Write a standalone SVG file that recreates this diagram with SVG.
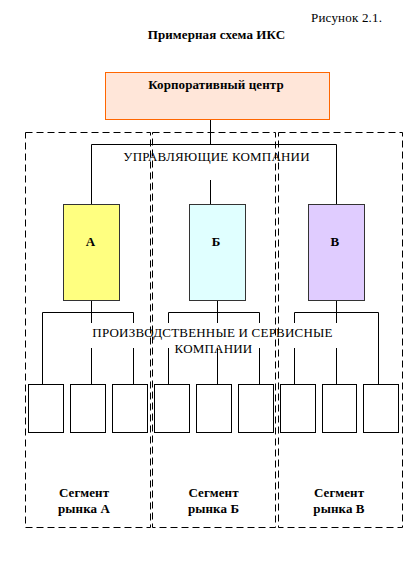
<svg xmlns="http://www.w3.org/2000/svg" width="416" height="565" viewBox="0 0 416 565">
<style>
.t{font-family:"Liberation Serif","Times New Roman",serif;fill:#000}
.b{font-weight:bold;font-size:13px;letter-spacing:0.1px}
.r{font-size:13px;letter-spacing:0.2px}
.seg{fill:none;stroke:#000;stroke-width:1;stroke-dasharray:7 4}
.ln{fill:none;stroke:#000;stroke-width:1}
.box{stroke:#333;stroke-width:1}
.sm{fill:#fff;stroke:#000;stroke-width:1}
</style>
<rect width="416" height="565" fill="#fff"/>
<text class="t r" x="311" y="21.5">Рисунок 2.1.</text>
<text class="t b" x="216.5" y="38.5" text-anchor="middle">Примерная схема ИКС</text>

<g id="corp">
<rect x="105.5" y="72.5" width="224" height="47" fill="#FFE6D9" stroke="#FF6600" stroke-width="1"/>
<text class="t b" x="216" y="89" text-anchor="middle">Корпоративный центр</text>
</g>

<g id="connectors">
<path class="ln" d="M210.5 120V144.5M91.5 144.5H336.5M91.5 144.5V204.5M336.5 144.5V204.5M210.5 180V204.5"/>
<path class="ln" d="M91.5 300.5V312.5M42.5 312.5H133.5M42.5 312.5V384.5M91.5 312.5V323M91.5 348V384.5M133.5 312.5V323M133.5 348V384.5"/>
<path class="ln" d="M217.5 300.5V312.5M168.5 312.5H259.5M168.5 312.5V323M168.5 348V384.5M217.5 312.5V323M217.5 348V384.5M259.5 312.5V323M259.5 348V384.5"/>
<path class="ln" d="M336.5 300.5V312.5M294.5 312.5H378.5M294.5 312.5V323M294.5 348V384.5M336.5 312.5V323M336.5 348V384.5M378.5 312.5V384.5"/>
</g>

<g id="mgmt-label">
<text class="t r" x="216.5" y="160.5" text-anchor="middle">УПРАВЛЯЮЩИЕ КОМПАНИИ</text>
</g>

<g id="company-A">
<rect class="box" x="63.5" y="204.5" width="56" height="96" fill="#FFFF80"/>
<text class="t b" x="90.5" y="246" text-anchor="middle">А</text>
</g>
<g id="company-B">
<rect class="box" x="189.5" y="204.5" width="56" height="96" fill="#E0FFFF"/>
<text class="t b" x="216" y="246" text-anchor="middle">Б</text>
</g>
<g id="company-V">
<rect class="box" x="308.5" y="204.5" width="56" height="96" fill="#E0CCFF"/>
<text class="t b" x="335" y="246" text-anchor="middle">В</text>
</g>

<g id="prod-label">
<text class="t r" x="212.5" y="336.5" text-anchor="middle">ПРОИЗВОДСТВЕННЫЕ И СЕРВИСНЫЕ</text>
<text class="t r" x="213.5" y="353" text-anchor="middle">КОМПАНИИ</text>
</g>

<g id="units">
<rect class="sm" x="28.5" y="384.5" width="35" height="48"/>
<rect class="sm" x="70.5" y="384.5" width="35" height="48"/>
<rect class="sm" x="112.5" y="384.5" width="35" height="48"/>
<rect class="sm" x="154.5" y="384.5" width="35" height="48"/>
<rect class="sm" x="196.5" y="384.5" width="35" height="48"/>
<rect class="sm" x="238.5" y="384.5" width="35" height="48"/>
<rect class="sm" x="280.5" y="384.5" width="35" height="48"/>
<rect class="sm" x="322.5" y="384.5" width="34" height="48"/>
<rect class="sm" x="363.5" y="384.5" width="35" height="48"/>
</g>

<g id="segment-A">
<rect class="seg" x="25.5" y="132.5" width="125" height="395"/>
<text class="t b" x="84" y="497" text-anchor="middle">Сегмент</text>
<text class="t b" x="84" y="513" text-anchor="middle">рынка А</text>
</g>
<g id="segment-B">
<rect class="seg" x="152.5" y="132.5" width="123" height="395"/>
<text class="t b" x="213.5" y="497" text-anchor="middle">Сегмент</text>
<text class="t b" x="213.5" y="513" text-anchor="middle">рынка Б</text>
</g>
<g id="segment-V">
<rect class="seg" x="278.5" y="132.5" width="124" height="395"/>
<text class="t b" x="339" y="497" text-anchor="middle">Сегмент</text>
<text class="t b" x="339" y="513" text-anchor="middle">рынка В</text>
</g>
</svg>
